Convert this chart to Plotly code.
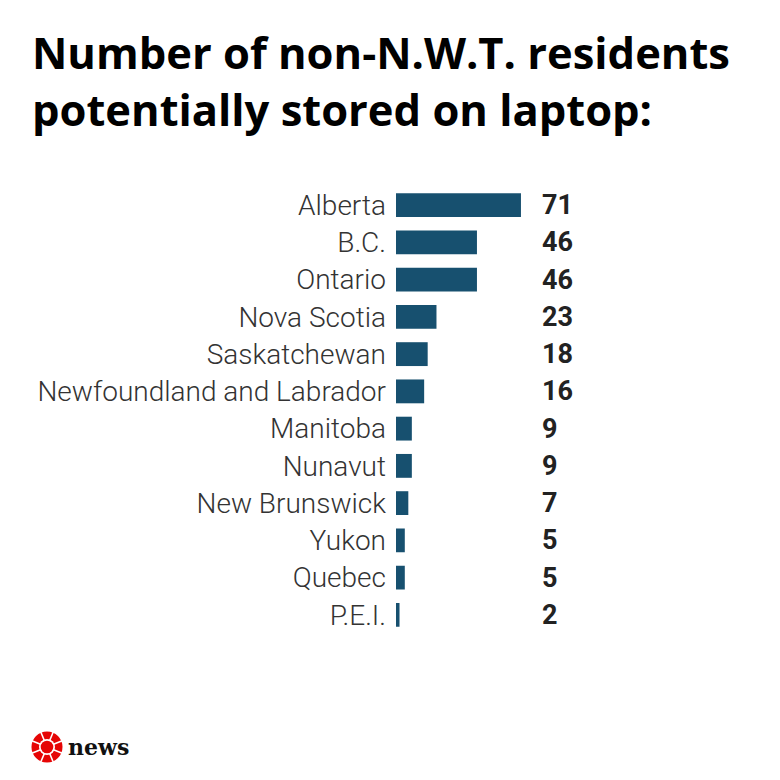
import math

import plotly.graph_objects as go

# ---------------------------------------------------------------------------
# Data
# ---------------------------------------------------------------------------

provinces = [
    "Alberta",
    "B.C.",
    "Ontario",
    "Nova Scotia",
    "Saskatchewan",
    "Newfoundland and Labrador",
    "Manitoba",
    "Nunavut",
    "New Brunswick",
    "Yukon",
    "Quebec",
    "P.E.I.",
]
residents = [71, 46, 46, 23, 18, 16, 9, 9, 7, 5, 5, 2]

TITLE = "Number of non-N.W.T. residents<br>potentially stored on laptop:"

# ---------------------------------------------------------------------------
# Layout settings (pixel based, 780x780 canvas with zero margins)
# ---------------------------------------------------------------------------

W = H = 780
OFF = 8              # page body margin shifts the figure by this much
BAR_COLOR = "#17506f"
LABEL_COLOR = "#333333"
FONT = "Roboto, 'Open Sans', sans-serif"
TITLE_FONT = "'Open Sans', Roboto, sans-serif"

PX_PER_UNIT = 1.76
X0_PX = 396          # left edge of the bars
VALUE_X_PX = 540     # left edge of the value labels
Y_TOP_PX = 186.5
Y_BOT_PX = 633.5


def px_x(px):
    return (px - OFF) / W


def px_y(py):
    return 1 - (py - OFF) / H


x_max = (W + OFF - X0_PX) / PX_PER_UNIT

fig = go.Figure()

fig.add_trace(go.Bar(
    x=residents,
    y=provinces,
    orientation="h",
    marker=dict(color=BAR_COLOR, line=dict(width=0)),
    hoverinfo="x+y",
))

# value labels
for name, val in zip(provinces, residents):
    fig.add_annotation(
        x=(VALUE_X_PX - X0_PX) / PX_PER_UNIT,
        y=name,
        xref="x",
        yref="y",
        text=f"<b>{val}</b>",
        showarrow=False,
        xanchor="left",
        font=dict(family=FONT, size=27, color="#222222"),
    )

# title
fig.add_annotation(
    x=px_x(30), y=px_y(81), xref="paper", yref="paper",
    text=f"<b>{TITLE}</b>", showarrow=False,
    xanchor="left", yanchor="middle", align="left",
    font=dict(family=TITLE_FONT, size=43.5, color="#000000"),
)

# CBC gem (approximation) + "news" wordmark
cx, cy, r = 47, 747, 15.5
fig.add_shape(type="circle", xref="paper", yref="paper",
              x0=px_x(cx - r), x1=px_x(cx + r), y0=px_y(cy + r), y1=px_y(cy - r),
              fillcolor="#e60505", line=dict(width=0))
fig.add_shape(type="circle", xref="paper", yref="paper",
              x0=px_x(cx - 8), x1=px_x(cx + 8), y0=px_y(cy + 8), y1=px_y(cy - 8),
              fillcolor="white", line=dict(width=0))
fig.add_shape(type="circle", xref="paper", yref="paper",
              x0=px_x(cx - 6.3), x1=px_x(cx + 6.3), y0=px_y(cy + 6.3), y1=px_y(cy - 6.3),
              fillcolor="#e60505", line=dict(width=0))
for k in range(8):
    a = math.radians(22.5 + 45 * k)
    fig.add_shape(type="line", xref="paper", yref="paper",
                  x0=px_x(cx + 7 * math.cos(a)), y0=px_y(cy + 7 * math.sin(a)),
                  x1=px_x(cx + (r + 1) * math.cos(a)), y1=px_y(cy + (r + 1) * math.sin(a)),
                  line=dict(color="white", width=1.6))
fig.add_annotation(
    x=px_x(66), y=px_y(747), xref="paper", yref="paper",
    text="<b>news</b>", showarrow=False, xanchor="left", yanchor="middle",
    font=dict(family="'DejaVu Serif', serif", size=22, color="#111111"),
)

fig.update_layout(
    width=W,
    height=H,
    autosize=False,
    margin=dict(l=0, r=0, t=0, b=0),
    paper_bgcolor="white",
    plot_bgcolor="white",
    showlegend=False,
    bargap=0.36,
    font=dict(family=FONT, color=LABEL_COLOR),
    xaxis=dict(
        domain=[px_x(X0_PX), 1],
        range=[0, x_max],
        visible=False,
        fixedrange=True,
    ),
    yaxis=dict(
        domain=[px_y(Y_BOT_PX), px_y(Y_TOP_PX)],
        autorange="reversed",
        showgrid=False,
        zeroline=False,
        showline=False,
        ticks="",
        ticklabelstandoff=9,
        tickfont=dict(family=FONT, size=28, color=LABEL_COLOR, weight=300),
        fixedrange=True,
    ),
)

fig.write_html("out.html")
